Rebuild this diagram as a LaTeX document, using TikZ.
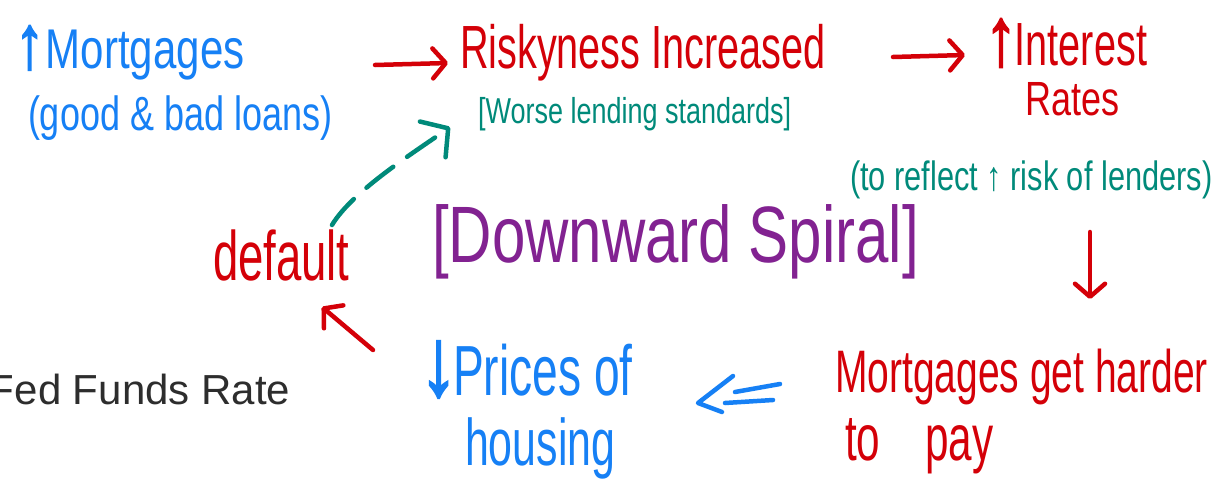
\documentclass[tikz,border=0pt]{standalone}
\usepackage{fontspec}
\setmainfont{Liberation Sans}
\newfontfamily\hand[FakeStretch=0.75]{Liberation Sans}
\newfontfamily\handtall[FakeStretch=0.65]{Liberation Sans}
\newfontfamily\arrowglyph[FakeBold=2.5]{Liberation Sans}
\newfontfamily\plainfont{Liberation Sans}
\usetikzlibrary{arrows.meta,calc}
\newsavebox\arrowmeasure
\newcommand\tallarrow[1]{\sbox\arrowmeasure{#1}\makebox[\dimexpr\wd\arrowmeasure+10pt\relax][l]{\scalebox{1.05}[1.35]{\arrowglyph #1}}}
\definecolor{hblue}{RGB}{22,128,245}
\definecolor{hred}{RGB}{212,0,8}
\definecolor{hteal}{RGB}{0,138,122}
\definecolor{hpurple}{RGB}{130,34,145}
\definecolor{typed}{RGB}{45,45,45}
\tikzset{
  lbl/.style={anchor=base west, inner sep=0pt, outer sep=0pt},
  fs/.style={font=\hand\fontsize{#1pt}{#1pt}\selectfont},
  fst/.style={font=\handtall\fontsize{#1pt}{#1pt}\selectfont},
  pen/.style={line width=4.5pt, line cap=round, line join=round},
  barb/.style={-{Straight Barb[length=13pt,width=30pt,round]}},
}
\begin{document}
\begin{tikzpicture}[x=1pt,y=-1pt]
\useasboundingbox (0,0) rectangle (1215,490);
\clip (0,0) rectangle (1215,490);
\fill[white] (0,0) rectangle (1215,490);

% texts
\node[lbl,fs=56,text=hblue] (mort) at (15,68) {\tallarrow{↑}Mortgages};
\node[lbl,fs=48,text=hblue] (good) at (28,130) {(good \& bad loans)};
\node[lbl,fst=61,text=hred] (risk) at (460,68) {Riskyness Increased};
\node[lbl,fs=36,text=hteal] (worse) at (478,123) {[Worse lending standards]};
\node[lbl,fst=61,text=hred] (int) at (985,65) {\tallarrow{↑}Interest};
\node[lbl,fs=48,text=hred] (rates) at (1025,115) {Rates};
\node[lbl,fs=41,text=hteal] (refl) at (850,190) {(to reflect ↑ risk of lenders)};
\node[lbl,fs=80,text=hpurple] (spiral) at (432,262) {[Downward Spiral]};
\node[lbl,fst=70,text=hred] (dflt) at (213,280) {default};
\node[lbl,fst=60,text=hred] (hard) at (835,392) {Mortgages get harder};
\node[lbl,fst=65,text=hred] (topay) at (845,460) {to\hspace{45pt}pay};
\node[lbl,fst=71,text=hblue] (prices) at (420,395) {\tallarrow{↓}Prices of};
\node[lbl,fst=66,text=hblue] (housing) at (465,465) {housing};
\node[lbl,font=\plainfont\fontsize{42pt}{42pt}\selectfont,text=typed] (fed) at (-11,404) {Fed Funds Rate};

% connectors
\draw[pen,hred,barb] ($(risk.base west)+(-85,-3)$) -- ($(risk.base west)+(-12,-5)$);
\draw[pen,hred,barb] ($(int.base west)+(-92,-8)$) -- ($(int.base west)+(-20,-10)$);
\draw[pen,hred,barb] ($(hard.base west)+(255,-160)$) -- ($(hard.base west)+(255,-93)$);
\draw[pen,hred,barb] ($(prices.base west)+(-47,-45)$) -- ($(prices.base west)+(-98,-88)$);

% double arrow from "Mortgages get harder" to "Prices of housing"
\begin{scope}[shift={(hard.base west)}]
  \draw[pen,hblue] (-102,-16) -- (-137,11) -- (-113,20);
  \draw[pen,hblue] (-100,0) -- (-55,-8);
  \draw[pen,hblue] (-110,11) -- (-62,8);
\end{scope}

% dashed curved arrow from default to worse lending standards
\draw[pen,hteal,dash pattern=on 34pt off 17pt,-{Straight Barb[length=19pt,width=44pt,round]}]
  ($(dflt.base west)+(119,-55)$) .. controls ($(dflt.base west)+(140,-90)$) and ($(dflt.base west)+(205,-130)$) .. ($(dflt.base west)+(237,-153)$);
\end{tikzpicture}
\end{document}
